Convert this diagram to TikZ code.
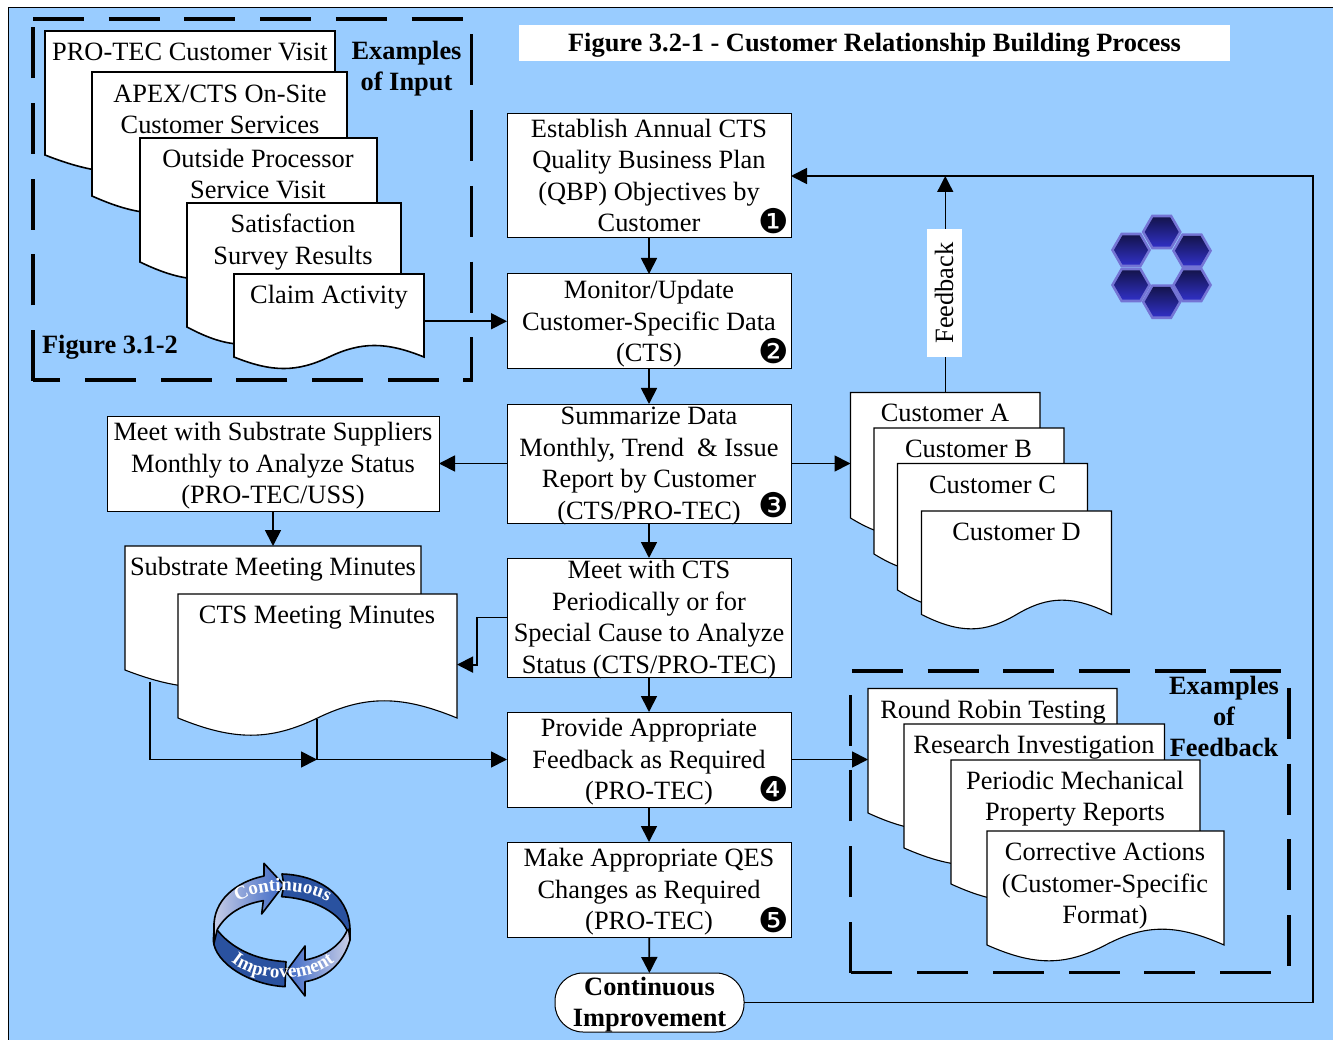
\documentclass[tikz,border=0pt]{standalone}
\usepackage{fontspec}
\setmainfont{Liberation Serif}
\newfontfamily\dingf{DejaVu Sans}
\usetikzlibrary{arrows.meta,decorations.text}
\definecolor{panelblue}{HTML}{99CCFF}
\definecolor{ribbondark}{HTML}{2A52A0}
\definecolor{ribbonhead}{HTML}{3A66C4}
\definecolor{ribbonpale}{HTML}{C9CFE8}
\definecolor{hexrim}{HTML}{7474D4}
\definecolor{hextop}{HTML}{14144E}
\definecolor{hexbot}{HTML}{3030C4}
\newcommand\cifont{\fontsize{19}{22}\selectfont\bfseries}
\newcommand\Tx[2][8.6pt]{\raisebox{-#1}[15pt][15pt]{\begin{tabular}{@{}c@{}}#2\end{tabular}}}
\tikzset{
  txt/.style={font=\fontsize{26.4}{31.5}\selectfont, align=center, inner sep=0pt, outer sep=0pt,
    execute at begin node=\strut, execute at end node=\strut},
  hdg/.style={txt, font=\fontsize{26.4}{31.2}\selectfont\bfseries},
  procbox/.style={font=\fontsize{26.4}{31.5}\selectfont, inner sep=0pt, outer sep=0pt, draw=black, line width=1pt, fill=white},
  docshape/.style={draw=black, line width=1.1pt, fill=white, line join=miter},
  docframe/.style={inner sep=0pt, outer sep=0pt},
  flow/.style={draw=black, line width=1.8pt, -{Triangle[length=16pt,width=16pt]}},
  plainflow/.style={draw=black, line width=1.8pt},
  dashframe/.style={draw=black, line width=3.4pt, dash pattern=on 51pt off 24.7pt},
  num/.style={font=\dingf\fontsize{34}{34}\selectfont, inner sep=0pt, outer sep=0pt},
  ribbon/.style={draw=black, line width=1.6pt, line join=round},
}
% name, x0, y0, x1, y-bottom-left, text x, text y, text
\newcommand\docu[8]{%
  \pgfmathsetmacro\dw{#4-#2}%
  \pgfmathsetmacro\da{(#5-#3)*0.185}%
  \pgfmathsetmacro\dh{#5-#3+0.75*\da}%
  \path[docshape] (#2,#3) -- (#4,#3) -- (#4,#5)
    .. controls ({#2+0.8*\dw},{#5-\da}) and ({#2+0.67*\dw},{#5-\da}) .. ({#2+0.5*\dw},#5)
    .. controls ({#2+0.33*\dw},{#5+\da}) and ({#2+0.2*\dw},{#5+\da}) .. (#2,#5) -- cycle;
  \node[docframe, minimum width=\dw pt, minimum height=\dh pt] (#1) at ({#2+0.5*\dw},{#3+0.5*\dh}) {};
  \node[txt] (#1t) at (#6,#7) {#8};
}
\newcommand\hexa[2]{%
  \fill[hexrim] ({#1+20},#2) -- ({#1+10},{#2+17.4}) -- ({#1-10},{#2+17.4}) -- ({#1-20},#2) -- ({#1-10},{#2-17.4}) -- ({#1+10},{#2-17.4}) -- cycle;
  \shade[top color=hextop, bottom color=hexbot] ({#1+17},#2) -- ({#1+8.5},{#2+14.7}) -- ({#1-8.5},{#2+14.7}) -- ({#1-17},#2) -- ({#1-8.5},{#2-14.7}) -- ({#1+8.5},{#2-14.7}) -- cycle;
}
\begin{document}
\begin{tikzpicture}[x=1pt,y=-1pt]
\useasboundingbox (0,0) rectangle (1333,1040);
\fill[white] (0,0) rectangle (1333,1040);
\fill[panelblue] (8,7.5) rectangle (1333,1040);
\draw[black,line width=1pt] (8,1040) -- (8,7.5) -- (1333,7.5);

% input documents
\begin{scope}[docshape/.append style={line width=1.6pt}]
\docu{visit}{45}{31}{335}{155}{190}{54}{PRO-TEC Customer Visit}
\docu{apex}{92}{72}{347}{196}{220}{114}{APEX/CTS On-Site\\Customer Services}
\docu{outproc}{140}{138}{377}{262}{258}{178.5}{Outside Processor\\Service Visit}
\docu{survey}{187}{203}{401}{327}{293}{244}{Satisfaction\\Survey Results}
\docu{claim}{234}{274}{424}{357}{329}{297}{Claim Activity}
\end{scope}
\draw[dashframe] (33,19) -- (471.7,19) -- (471.7,380) -- (33,380);
\draw[dashframe] (33,381) -- (33,19);
\node[hdg] (exinput) at (406.5,70.5) {Examples\\of Input};
\node[hdg] (figref) at (110,347) {Figure 3.1-2};
\node[font=\fontsize{26.4}{31.2}\selectfont\bfseries, inner sep=0pt, outer sep=0pt, fill=white, minimum width=711pt, minimum height=36pt] (title) at (874.5,43) {\Tx{Figure 3.2-1 - Customer Relationship Building Process}};

% main process
\node[procbox, minimum width=284pt, minimum height=124pt] (box1) at (649,176) {\Tx{Establish Annual CTS\\Quality Business Plan\\(QBP) Objectives by\\Customer}};
\node[procbox, minimum width=284pt, minimum height=95pt] (box2) at (649,321.5) {\Tx{Monitor/Update\\Customer-Specific Data\\(CTS)}};
\node[procbox, minimum width=284pt, minimum height=119pt] (box3) at (649,463.5) {\Tx{Summarize Data\\Monthly, Trend\ \ \&\ Issue\\Report by Customer\\(CTS/PRO-TEC)}};
\node[procbox, minimum width=284pt, minimum height=119pt] (meet) at (649,617.5) {\Tx{Meet with CTS\\Periodically or for\\Special Cause to Analyze\\Status (CTS/PRO-TEC)}};
\node[procbox, minimum width=284pt, minimum height=95pt] (box4) at (649,759.5) {\Tx{Provide Appropriate\\Feedback as Required\\(PRO-TEC)}};
\node[procbox, minimum width=284pt, minimum height=95pt] (box5) at (649,889.5) {\Tx{Make Appropriate QES\\Changes as Required\\(PRO-TEC)}};
\node[procbox, font=\fontsize{26.4}{31.2}\selectfont\bfseries, rounded corners=28pt, minimum width=189pt, minimum height=59pt] (ci) at (649.5,1002.5) {\Tx{Continuous\\Improvement}};
\node[procbox, minimum width=332pt, minimum height=95pt] (sup) at (273,463.5) {\Tx{Meet with Substrate Suppliers\\Monthly to Analyze Status\\(PRO-TEC/USS)}};

\node[num] (n1) at (774,221) {❶};
\node[num] (n2) at (774,351) {❷};
\node[num] (n3) at (774,505) {❸};
\node[num] (n4) at (774,789) {❹};
\node[num] (n5) at (774,920) {❺};

% minutes
\docu{subm}{125}{546}{421}{670}{273}{569}{Substrate Meeting Minutes}
\docu{ctsm}{178}{594}{457}{718}{317}{617}{CTS Meeting Minutes}

% customers
\docu{custa}{850.5}{392.5}{1040}{518}{945}{415}{Customer A}
\docu{custb}{874}{428}{1064}{554}{968.5}{451}{Customer B}
\docu{custc}{897.5}{463.5}{1087.5}{590}{992.5}{487}{Customer C}
\docu{custd}{921.5}{511}{1111.5}{614.5}{1016.5}{534}{Customer D}

% feedback documents
\docu{robin}{868}{688.5}{1117}{813}{993}{712}{Round Robin Testing}
\docu{research}{904}{724}{1164.5}{848}{1034}{747}{Research Investigation}
\docu{periodic}{951}{760}{1200}{884}{1075}{800.5}{Periodic Mechanical\\Property Reports}
\docu{correct}{987}{831}{1224}{945}{1105}{888}{Corrective Actions\\(Customer-Specific\\Format)}
\draw[dashframe] (850.7,972.7) -- (850.7,671) -- (1289,671) -- (1289,972.7) -- cycle;
\node[hdg] (exfeed) at (1224,721) {Examples\\of\\Feedback};

% connectors
\draw[flow] (box1) -- (box2);
\draw[flow] (box2) -- (box3);
\draw[flow] (box3) -- (meet);
\draw[flow] (meet) -- (box4);
\draw[flow] (box4) -- (box5);
\draw[flow] (box5) -- (ci);
\draw[flow] (claim.east) -- (claim.east -| box2.west);
\draw[flow] (box3.west) -- (box3.west -| sup.east);
\draw[flow] (box3.east) -- (box3.east -| custa.west);
\draw[flow] (box4.east) -- (box4.east -| robin.west);
\draw[flow] (sup.south) -- (subm.north);
\coordinate (meetbend) at (477,617.5);
\draw[flow] (meet.west) -- (meetbend) |- (ctsm.east);
\coordinate (subout) at (150,681.5);
\coordinate (ctsout) at (317,719);
\coordinate (joinpt) at (317,759.5);
\draw[flow] (subout) |- (joinpt);
\draw[plainflow] (ctsout) -- (joinpt);
\draw[flow] (joinpt) -- (joinpt -| box4.west);
\coordinate (retcorner) at (1313,176);
\draw[flow] (ci.east) -| (retcorner) -- (box1.east);
\draw[flow, line width=1.3pt] (custa.north) -- (custa.north |- box1.east);
\node[font=\fontsize{26.4}{31.5}\selectfont, inner sep=0pt, outer sep=0pt, fill=white, rotate=90, minimum width=128pt, minimum height=35pt] (fbk) at (944.5,293) {\Tx{Feedback}};

% hexagon mark
\hexa{1161.7}{232}
\hexa{1131}{250}
\hexa{1192}{250.7}
\hexa{1131}{285}
\hexa{1192}{285}
\hexa{1161.7}{301.7}

% continuous improvement ring
\begin{scope}[shift={(190,850)}, x=0.3333pt, y=-0.3333pt]
\path[ribbon, fill=ribbondark] (276,72) .. controls (380,75) and (475,130) .. (480,235) -- (480,270) -- (470,238) .. controls (440,180) and (360,145) .. (275,140) -- (282,105) -- cycle;
\path[ribbon, fill=ribbondark] (72,240) -- (70,272) .. controls (75,340) and (180,405) .. (285,410) -- (288,335) .. controls (190,330) and (120,290) .. (80,238) -- cycle;
\path[ribbon, left color=ribbonpale, right color=ribbonhead] (72,280) -- (72,235) .. controls (68,150) and (140,95) .. (222,78) -- (222,40) -- (282,105) -- (215,192) -- (220,152) .. controls (160,162) and (110,190) .. (82,238) -- cycle;
\path[ribbon, left color=ribbonhead, right color=ribbonpale] (476,238) -- (480,270) .. controls (460,340) and (410,385) .. (345,395) -- (345,438) -- (288,365) -- (345,288) -- (345,330) .. controls (400,320) and (450,290) .. (472,240) -- cycle;
\path[decorate, decoration={text along path, text align=center, text={|\cifont\color{white}|Continuous}}] (128,165) .. controls (200,110) and (350,108) .. (428,165);
\path[decorate, decoration={text along path, text align=center, text={|\cifont\color{white}|Improvement}}] (122,335) .. controls (190,395) and (350,405) .. (435,335);
\end{scope}
\end{tikzpicture}
\end{document}
